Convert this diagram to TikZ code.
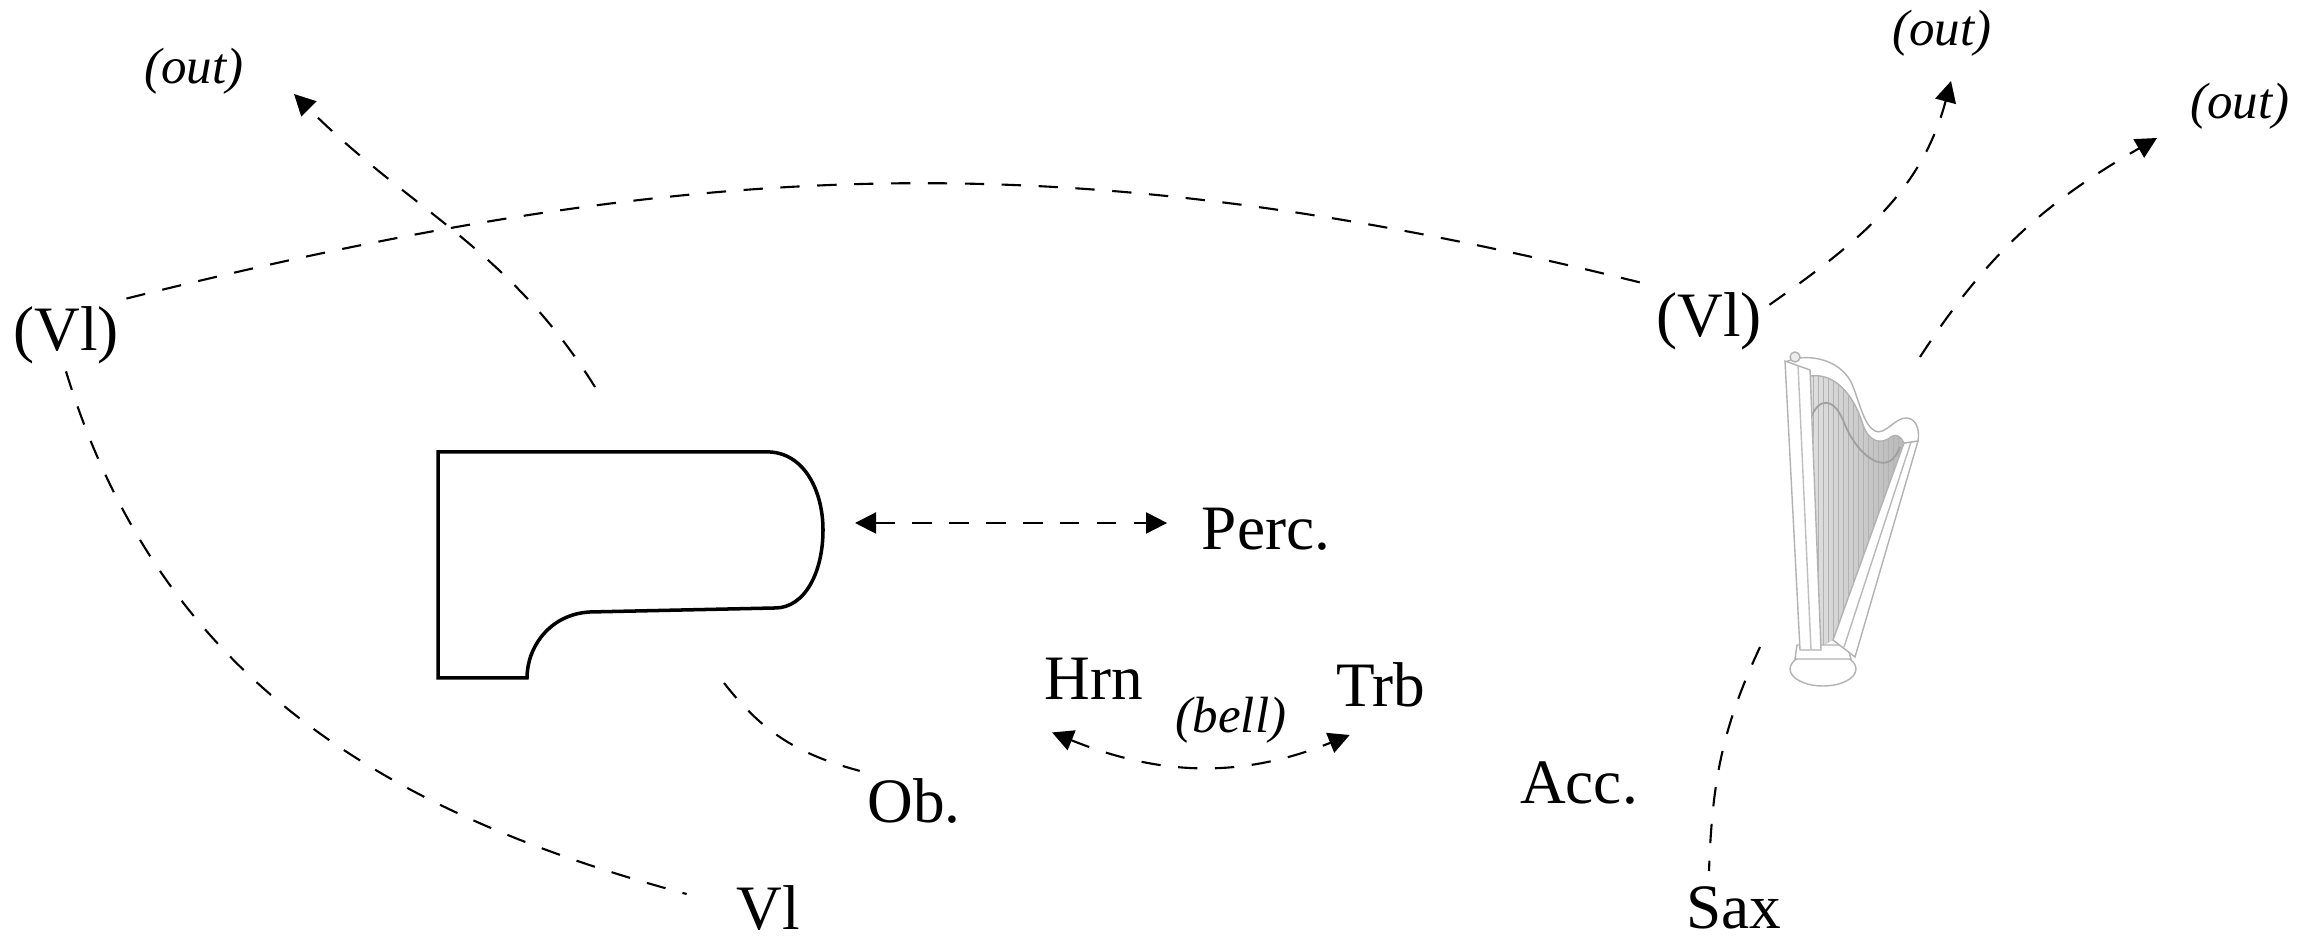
\documentclass[tikz,border=0pt]{standalone}
\usepackage{fontspec}
\setmainfont{Liberation Serif}
\usetikzlibrary{arrows.meta}

% area between pillar, neck and soundboard of the harp
\newcommand{\harpstrings}{(0.28,3.11) .. controls (0.50,3.14) and (0.70,2.95) .. (0.80,2.62)
    .. controls (0.86,2.45) and (0.98,2.42) .. (1.08,2.50)
    .. controls (1.14,2.54) and (1.18,2.50) .. (1.21,2.44)
    -- (0.50,0.47) -- (0.38,0.40) -- cycle}

\begin{document}
\begin{tikzpicture}[
    lbl/.style={font=\fontsize{18}{20}\selectfont, inner sep=2pt},
    note/.style={font=\fontsize{14.5}{16}\selectfont\itshape, inner sep=2pt},
    link/.style={line width=0.6pt, dash pattern=on 5.5pt off 5pt},
    >={Triangle[length=6pt,width=6pt]}
]
    \useasboundingbox (0,0) rectangle (23.04,9.42);

    % Grand piano seen from above
    \draw[line width=1pt] (4.38,2.64) -- (4.38,4.90) -- (7.70,4.90)
        .. controls (8.05,4.88) and (8.23,4.50) .. (8.23,4.12)
        .. controls (8.23,3.70) and (8.05,3.34) .. (7.75,3.34)
        -- (5.90,3.30) .. controls (5.50,3.28) and (5.27,2.95) .. (5.27,2.64) -- cycle;

    % Harp
    \begin{scope}[shift={(17.83,2.55)}]
        \shade[left color=gray!25, right color=gray!55] \harpstrings;
        \begin{scope}
            \clip \harpstrings;
            \foreach \x in {0.30,0.35,...,1.24}
                \draw[gray!60, line width=0.3pt] (\x,0) -- (\x,3.4);
        \end{scope}
        \draw[gray!75, line width=0.5pt] (0.27,2.67) .. controls (0.35,2.90) and (0.50,2.90) .. (0.60,2.67)
            .. controls (0.70,2.40) and (0.90,2.20) .. (1.05,2.25)
            .. controls (1.12,2.28) and (1.15,2.35) .. (1.17,2.40);
        % base
        \draw[gray!60, fill=white] (0.40,0.18) ellipse (0.33 and 0.17);
        \draw[gray!60, fill=white] (0.12,0.28) -- (0.14,0.42) -- (0.64,0.42) -- (0.68,0.28) -- cycle;
        % soundboard
        \draw[gray!60, fill=white] (1.21,2.44) -- (1.35,2.46) -- (0.72,0.30) -- (0.50,0.47) -- cycle;
        \draw[gray!55] (1.28,2.45) -- (0.61,0.40);
        % neck
        \draw[gray!60, fill=white] (0.03,3.25) .. controls (0.20,3.34) and (0.55,3.30) .. (0.68,3.05)
            .. controls (0.76,2.88) and (0.80,2.62) .. (0.92,2.56)
            .. controls (1.02,2.51) and (1.12,2.70) .. (1.24,2.69)
            .. controls (1.33,2.68) and (1.37,2.58) .. (1.35,2.46)
            -- (1.21,2.44) .. controls (1.18,2.50) and (1.14,2.54) .. (1.08,2.50)
            .. controls (0.98,2.42) and (0.86,2.45) .. (0.80,2.62)
            .. controls (0.70,2.95) and (0.50,3.14) .. (0.28,3.11) -- cycle;
        % pillar
        \draw[gray!60, fill=white] (0.02,3.26) -- (0.17,0.37) -- (0.38,0.37) -- (0.27,3.17) -- cycle;
        \draw[gray!50] (0.15,3.22) -- (0.28,0.37);
        \draw[gray!60, fill=gray!15] (0.12,3.30) circle (0.05);
    \end{scope}

    % Players
    \node[lbl] (vlL) at (0.66,6.07) {(Vl)};
    \node[lbl] (vlR) at (17.09,6.21) {(Vl)};
    \node[lbl] (perc) at (12.66,4.13) {Perc.};
    \node[lbl] (hrn) at (10.94,2.63) {Hrn};
    \node[lbl] (trb) at (13.81,2.57) {Trb};
    \node[lbl] (ob) at (9.14,1.41) {Ob.};
    \node[lbl] (vl) at (7.68,0.34) {Vl};
    \node[lbl] (acc) at (15.79,1.59) {Acc.};
    \node[lbl] (sax) at (17.34,0.34) {Sax};

    % Side notes
    \node[note] (outTL) at (1.94,8.71) {(out)};
    \node[note] (outR1) at (19.42,9.09) {(out)};
    \node[note] (outR2) at (22.40,8.36) {(out)};
    \node[note] (bell) at (12.31,2.22) {(bell)};

    % Free ends of the paths
    \coordinate (pianoTop) at (5.95,5.55);
    \coordinate (tipTL) at (2.94,8.48);
    \coordinate (tipR1) at (19.51,8.61);
    \coordinate (harpTop) at (19.20,5.85);
    \coordinate (tipR2) at (21.57,8.04);
    \coordinate (pianoR) at (8.55,4.19);
    \coordinate (pianoBot) at (7.24,2.59);
    \coordinate (harpFoot) at (17.60,2.95);
    \coordinate (bellL) at ([xshift=0.15cm,yshift=-0.25cm]hrn.south west);
    \coordinate (bellR) at ([xshift=0.21cm,yshift=-0.20cm]trb.south west);

    % Paths
    \draw[link,->] (pianoTop) to[out=122, in=-45] (tipTL);
    \draw[link] (vlL.north east) to[out=14, in=166] (vlR.north west);
    \draw[link] (vlL.south) to[out=-73, in=165] ([xshift=-0.42cm,yshift=0.14cm]vl.west);
    \draw[link,->] (vlR.15) to[out=35, in=-105] (tipR1);
    \draw[link,->] (harpTop) to[out=57, in=-150] (tipR2);
    \draw[link,<->, shorten >=7.7pt] (pianoR) -- (pianoR -| perc.west);
    \draw[link] (pianoBot) to[out=-52, in=165] (ob.north west);
    \draw[link,<->] (bellL) to[out=-22, in=-158] (bellR);
    \draw[link] (harpFoot) to[out=-115, in=88] ([xshift=-0.25cm,yshift=0.08cm]sax.north);

\end{tikzpicture}
\end{document}
